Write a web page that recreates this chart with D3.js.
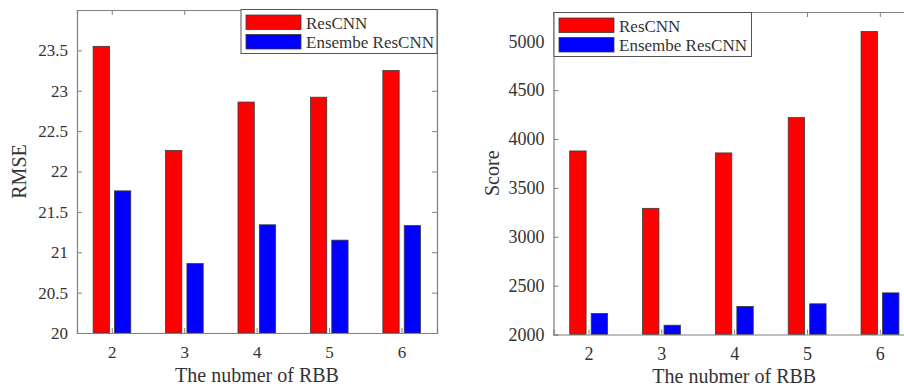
<!DOCTYPE html>
<html>
<head>
<meta charset="utf-8">
<script src="https://cdn.jsdelivr.net/npm/d3@7"></script>
<style>
  html, body { margin: 0; padding: 0; background: #fff; }
  svg { display: block; }
  text { font-family: "Liberation Serif", "Times New Roman", serif; fill: #333; }
</style>
</head>
<body>
<svg id="chart" width="904" height="390"></svg>
<script>
// ---- data ----
const categories = [2, 3, 4, 5, 6];
const seriesNames = ["ResCNN", "Ensembe ResCNN"];
const seriesColors = ["#ff0000", "#0000ff"];
const rmseResCNN = [23.55, 22.26, 22.86, 22.92, 23.25];
const rmseEnsemble = [21.76, 20.86, 21.34, 21.15, 21.33];
const scoreResCNN = [3878, 3291, 3858, 4219, 5100];
const scoreEnsemble = [2215, 2095, 2287, 2314, 2426];
const rmseTicks = [20, 20.5, 21, 21.5, 22, 22.5, 23, 23.5];
const scoreTicks = [2000, 2500, 3000, 3500, 4000, 4500, 5000];
const xLabel = "The nubmer of RBB";

const svg = d3.select("#chart");

function panel(cfg) {
  const g = svg.append("g");
  const x = d3.scaleLinear().domain([1.52, 6.49]).range([cfg.left, cfg.right]);
  const y = d3.scaleLinear().domain(cfg.yDomain).range([cfg.bottom, cfg.top]);
  const unit = x(3) - x(2);
  const bw = 0.225 * unit;
  const off = [-0.145 * unit, 0.15 * unit];
  const data = [cfg.s1, cfg.s2];

  // bars
  data.forEach((vals, si) => {
    g.selectAll(null).data(vals).enter().append("rect")
      .attr("x", (d, i) => x(categories[i]) + off[si] - bw / 2)
      .attr("y", d => y(d))
      .attr("width", bw)
      .attr("height", d => y(cfg.yDomain[0]) - y(d))
      .attr("fill", seriesColors[si])
      .attr("stroke", "#3a3a3a")
      .attr("stroke-width", 0.8);
  });

  const axisColor = "#808080";
  // axes
  const gx = g.append("g").attr("transform", `translate(0,${cfg.bottom})`)
    .call(d3.axisBottom(x).tickValues(categories).tickSize(-5).tickPadding(13).tickFormat(d3.format("d")));
  const gxt = g.append("g").attr("transform", `translate(0,${cfg.top})`)
    .call(d3.axisTop(x).tickValues(categories).tickSize(-5).tickFormat(""));
  const gy = g.append("g").attr("transform", `translate(${cfg.left},0)`)
    .call(d3.axisLeft(y).tickValues(cfg.yTicks).tickSize(-5).tickPadding(9).tickFormat(d => String(d)));
  const gyr = g.append("g").attr("transform", `translate(${cfg.right},0)`)
    .call(d3.axisRight(y).tickValues(cfg.yTicks).tickSize(-5).tickFormat(""));
  [gx, gxt, gy, gyr].forEach(a => {
    a.selectAll("path.domain").attr("stroke", axisColor).attr("stroke-width", 1.2);
    a.selectAll(".tick line").attr("stroke", axisColor).attr("stroke-width", 1);
    a.selectAll(".tick text").attr("fill", "#333")
      .style("font-family", '"Liberation Serif", serif');
  });
  gx.selectAll(".tick text").style("font-size", cfg.tickFont + "px");
  gy.selectAll(".tick text").style("font-size", cfg.tickFont + "px");
  // hide top-axis tick labels / domain caps handled
  gxt.selectAll(".tick text").remove();
  gyr.selectAll(".tick text").remove();

  // axis labels
  g.append("text")
    .attr("x", (cfg.left + Math.min(cfg.right, 915)) / 2)
    .attr("y", cfg.xLabelY)
    .attr("text-anchor", "middle")
    .style("font-size", "20px")
    .text(xLabel);
  g.append("text")
    .attr("transform", `translate(${cfg.yLabelX},${(cfg.top + cfg.bottom) / 2}) rotate(-90)`)
    .attr("text-anchor", "middle")
    .style("font-size", "20px")
    .text(cfg.yLabel);

  // legend
  const L = cfg.legend;
  g.append("rect").attr("x", L.x).attr("y", L.y).attr("width", L.w).attr("height", L.h)
    .attr("fill", "#fff").attr("stroke", "#555").attr("stroke-width", 1);
  seriesNames.forEach((name, i) => {
    g.append("rect")
      .attr("x", L.x + 5).attr("y", L.y + 5.5 + i * 19.5)
      .attr("width", 55).attr("height", 14.5)
      .attr("fill", seriesColors[i]).attr("stroke", "#3a3a3a").attr("stroke-width", 0.8);
    g.append("text")
      .attr("x", L.x + 65).attr("y", L.y + 19 + i * 19.8)
      .style("font-size", "17px")
      .text(name);
  });
}

panel({
  left: 77, right: 437, top: 10, bottom: 333,
  yDomain: [20, 24], yTicks: rmseTicks,
  s1: rmseResCNN, s2: rmseEnsemble,
  yLabel: "RMSE", yLabelX: 26, xLabelY: 382, tickFont: 17,
  legend: { x: 241, y: 9.5, w: 196, h: 44 }
});

panel({
  left: 553.5, right: 915.5, top: 12, bottom: 334.5,
  yDomain: [2000, 5300], yTicks: scoreTicks,
  s1: scoreResCNN, s2: scoreEnsemble,
  yLabel: "Score", yLabelX: 499, xLabelY: 383, tickFont: 18,
  legend: { x: 554, y: 12.5, w: 197.5, h: 44 }
});
</script>
</body>
</html>
